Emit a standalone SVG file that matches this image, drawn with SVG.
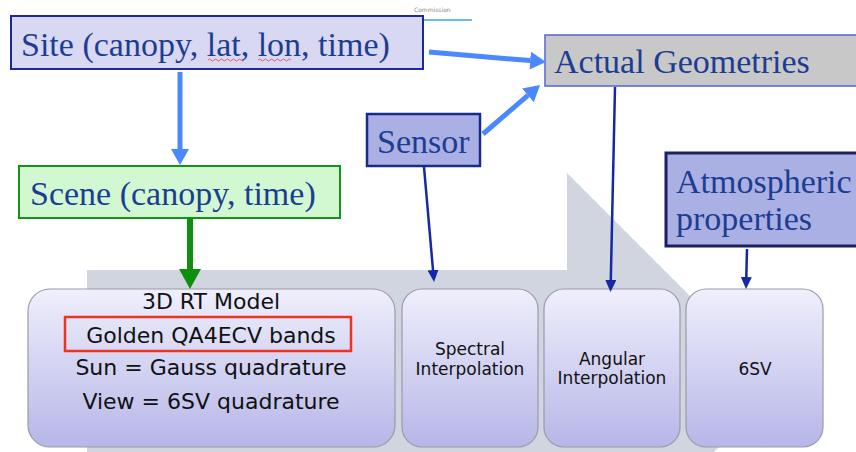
<svg xmlns="http://www.w3.org/2000/svg" width="856" height="452" viewBox="0 0 856 452">
<defs>
<linearGradient id="boxg" x1="0" y1="0" x2="0" y2="1">
<stop offset="0" stop-color="#efeffc"/>
<stop offset="1" stop-color="#b6b6e8"/>
</linearGradient>
<marker id="hLight" markerUnits="userSpaceOnUse" markerWidth="16" markerHeight="18" refX="0" refY="9" orient="auto"><path d="M0,0 L16,9 L0,18 z" fill="#4a88ff"/></marker>
<marker id="hGreen" markerUnits="userSpaceOnUse" markerWidth="20" markerHeight="22" refX="0" refY="11" orient="auto"><path d="M0,0 L20,11 L0,22 z" fill="#0f8f0f"/></marker>
<marker id="hDark" markerUnits="userSpaceOnUse" markerWidth="12" markerHeight="11" refX="0" refY="5.5" orient="auto"><path d="M0,0 L12,5.5 L0,11 z" fill="#1428a8"/></marker>
</defs>
<style>
.serif{font-family:"Liberation Serif","Times New Roman",serif;font-size:34px;fill:#1c3d92}
.sans{font-family:"DejaVu Sans",Verdana,sans-serif;fill:#111}
.big{font-size:22px}
.small{font-size:17px}
.proc{fill:url(#boxg);stroke:#9a9aa8;stroke-width:1.2}
.light{stroke:#4a88ff;stroke-width:5;fill:none}
.dark{stroke:#1428a8;stroke-width:2.5;fill:none}
.squig{stroke:#e04040;stroke-width:0.8;fill:none}
</style>
<rect width="856" height="452" fill="#ffffff"/>
<text x="414" y="12" font-family="DejaVu Sans,sans-serif" font-size="6" fill="#888">Commission</text>
<line x1="424" y1="20" x2="472" y2="20" stroke="#3aa6dd" stroke-width="1.5"/>
<polygon id="bg-arrow" points="87,270 567,270 567,173 780,386 714,452 87,452" fill="#d1d5df"/>
<g id="site">
<rect x="11" y="16" width="412" height="53" fill="#d8d8f2" stroke="#1a2a9a" stroke-width="2"/>
<text class="serif" x="21" y="56">Site (canopy, lat, lon, time)</text>
<path class="squig" d="M208,60 q1.5,-2 3,0 t3,0 t3,0 t3,0 t3,0 t3,0 t3,0 t3,0 t3,0 t3,0 t3,0 t3,0"/>
<path class="squig" d="M258,60 q1.5,-2 3,0 t3,0 t3,0 t3,0 t3,0 t3,0 t3,0 t3,0 t3,0 t3,0 t3,0"/>
</g>
<g id="actual-geometries">
<rect x="545" y="35" width="320" height="51" fill="#c8c8c8" stroke="#5566cc" stroke-width="1.5"/>
<text class="serif" x="554" y="73">Actual Geometries</text>
</g>
<g id="sensor">
<rect x="367" y="114" width="113" height="52" fill="#aab0e4" stroke="#1a2a8a" stroke-width="2.5"/>
<text class="serif" x="377" y="153">Sensor</text>
</g>
<g id="scene">
<rect x="19" y="166" width="321" height="52" fill="#d2f8d2" stroke="#149614" stroke-width="2"/>
<text class="serif" x="30" y="205">Scene (canopy, time)</text>
</g>
<g id="atmospheric">
<rect x="666" y="153" width="200" height="93" fill="#aab0e4" stroke="#1a2060" stroke-width="3"/>
<text class="serif" x="676" y="193">Atmospheric</text>
<text class="serif" x="676" y="230">properties</text>
</g>
<g id="rt-model">
<rect class="proc" x="28" y="289" width="367" height="158" rx="22"/>
<text class="sans big" x="211" y="309" text-anchor="middle">3D RT Model</text>
<rect x="65" y="317" width="286" height="34" fill="none" stroke="#ee3322" stroke-width="2.5"/>
<text class="sans big" x="211" y="343" text-anchor="middle">Golden QA4ECV bands</text>
<text class="sans big" x="211" y="375" text-anchor="middle">Sun = Gauss quadrature</text>
<text class="sans big" x="211" y="409" text-anchor="middle">View = 6SV quadrature</text>
</g>
<g id="spectral">
<rect class="proc" x="402" y="289" width="136" height="158" rx="20"/>
<text class="sans small" x="470" y="355" text-anchor="middle">Spectral</text>
<text class="sans small" x="470" y="375" text-anchor="middle">Interpolation</text>
</g>
<g id="angular">
<rect class="proc" x="544" y="289" width="136" height="158" rx="20"/>
<text class="sans small" x="612" y="365" text-anchor="middle">Angular</text>
<text class="sans small" x="612" y="384" text-anchor="middle">Interpolation</text>
</g>
<g id="sixsv">
<rect class="proc" x="686" y="289" width="137" height="158" rx="20"/>
<text class="sans small" x="755" y="375" text-anchor="middle">6SV</text>
</g>
<g id="connectors">
<line class="light" x1="429" y1="52" x2="530.1" y2="60.6" marker-end="url(#hLight)"/>
<line class="light" x1="483" y1="134" x2="527.9" y2="95.4" marker-end="url(#hLight)"/>
<line class="light" x1="180" y1="72" x2="180" y2="149" marker-end="url(#hLight)"/>
<line x1="190" y1="218" x2="190" y2="269" stroke="#0f8f0f" stroke-width="6" marker-end="url(#hGreen)"/>
<line class="dark" x1="424" y1="167" x2="433" y2="270" marker-end="url(#hDark)"/>
<line class="dark" x1="615" y1="87" x2="610.8" y2="280" marker-end="url(#hDark)"/>
<line class="dark" x1="747" y1="249" x2="746.3" y2="277" marker-end="url(#hDark)"/>
</g>
</svg>
